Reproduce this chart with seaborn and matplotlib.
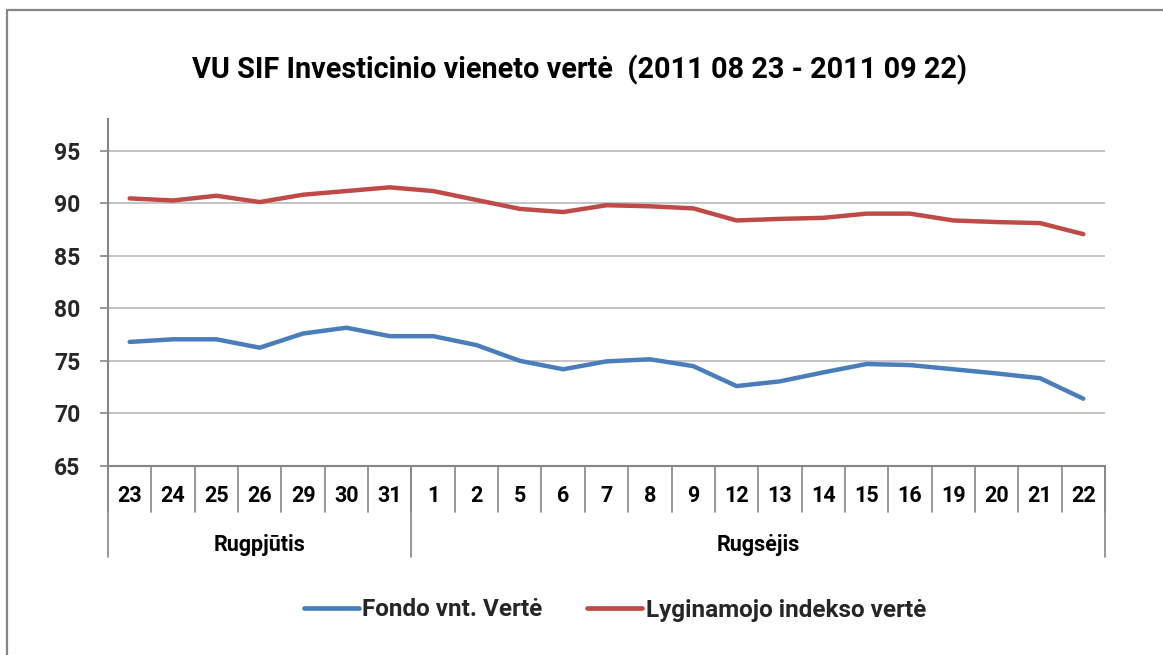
import matplotlib
matplotlib.use("Agg")
import matplotlib.pyplot as plt
import seaborn as sns
import pandas as pd
from matplotlib.patches import Rectangle
from matplotlib.lines import Line2D

days = ["23", "24", "25", "26", "29", "30", "31", "1", "2", "5", "6", "7", "8",
        "9", "12", "13", "14", "15", "16", "19", "20", "21", "22"]
months = ["Rugpjūtis", "Rugsėjis"]
month_counts = [7, 16]
fondo = [76.8, 77.05, 77.05, 76.25, 77.6, 78.15, 77.35, 77.35, 76.5, 75.0, 74.2,
         74.95, 75.15, 74.5, 72.6, 73.05, 73.9, 74.7, 74.6, 74.2, 73.8, 73.35, 71.4]
indeksas = [90.45, 90.25, 90.7, 90.1, 90.8, 91.15, 91.5, 91.15, 90.3, 89.45, 89.15,
            89.8, 89.7, 89.5, 88.35, 88.5, 88.6, 89.0, 89.0, 88.35, 88.2, 88.1, 87.05]
series_names = ["Fondo vnt. Vertė", "Lyginamojo indekso vertė"]
colors = ["#4A7EBB", "#BE4B48"]
title = "VU SIF Investicinio vieneto vertė  (2011 08 23 - 2011 09 22)"

sns.set_theme(style="white")
plt.rcParams["font.family"] = ["Roboto", "DejaVu Sans"]

df = pd.DataFrame({
    "x": list(range(len(days))) * 2,
    "value": fondo + indeksas,
    "series": [series_names[0]] * len(days) + [series_names[1]] * len(days),
})

fig = plt.figure(figsize=(11.63, 6.55), dpi=100)
W, H = 1163, 655
ax = fig.add_axes([108 / W, 1 - 466 / H, (1105 - 108) / W, (466 - 119) / H])

sns.lineplot(data=df, x="x", y="value", hue="series", palette=colors,
             linewidth=3.2, ax=ax, legend=False, solid_capstyle="round")

ax.set_xlim(-0.5, len(days) - 0.5)
ax.set_ylim(65, 98)
ax.set_yticks([65, 70, 75, 80, 85, 90, 95])
ax.set_yticklabels(["65", "70", "75", "80", "85", "90", "95"], fontsize=16.5, fontweight="bold")
ax.tick_params(axis="y", length=6, width=1.2, color="#868686", pad=14, left=True)
ax.set_xticks([])
ax.set_xlabel("")
ax.set_ylabel("")
for yv in [70, 75, 80, 85, 90, 95]:
    ax.axhline(yv, color="#BFBFBF", linewidth=1.3, zorder=0)
for s in ["top", "right"]:
    ax.spines[s].set_visible(False)
ax.spines["left"].set_color("#868686")
ax.spines["left"].set_linewidth(1.5)
ax.spines["bottom"].set_color("#868686")
ax.spines["bottom"].set_linewidth(1.5)

trans = ax.get_xaxis_transform()
row1_bottom = -(512 - 466) / (466 - 119)
row2_bottom = -(557 - 466) / (466 - 119)
day_label_y = -(496 - 466) / (466 - 119)
month_label_y = -(545 - 466) / (466 - 119)
for i, d in enumerate(days):
    ax.text(i, day_label_y, d, transform=trans, ha="center", va="center",
            fontsize=15.5, fontweight="bold", color="black")
for i in range(len(days) + 1):
    ax.plot([i - 0.5, i - 0.5], [0, row1_bottom], transform=trans, color="#868686",
            linewidth=1.2, clip_on=False)
start = 0
for m, c in zip(months, month_counts):
    ax.text(start + c / 2 - 0.5, month_label_y, m, transform=trans, ha="center",
            va="center", fontsize=15.5, fontweight="bold", color="black")
    start += c
bounds = [0]
for c in month_counts:
    bounds.append(bounds[-1] + c)
for b in bounds:
    ax.plot([b - 0.5, b - 0.5], [0, row2_bottom], transform=trans, color="#868686",
            linewidth=1.2, clip_on=False)

fig.text(580 / W, 1 - 70 / H, title, ha="center", va="center", fontsize=20.8,
         fontweight="bold", color="black")

handles = [Line2D([], [], color=c, linewidth=3.4, solid_capstyle="round") for c in colors]
leg = fig.legend(handles, series_names, loc="center", bbox_to_anchor=(615 / W, 1 - 610 / H),
                 ncol=2, frameon=False, handlelength=2.26, handletextpad=0.15,
                 columnspacing=1.85, prop={"size": 17.5, "weight": "bold"})

fig.patches.append(Rectangle((7 / W, -0.05), 1.2, 1 - 10 / H + 0.05, transform=fig.transFigure,
                             fill=False, edgecolor="#868686", linewidth=1.6))

fig.savefig("out.png", dpi=100, facecolor="white")
